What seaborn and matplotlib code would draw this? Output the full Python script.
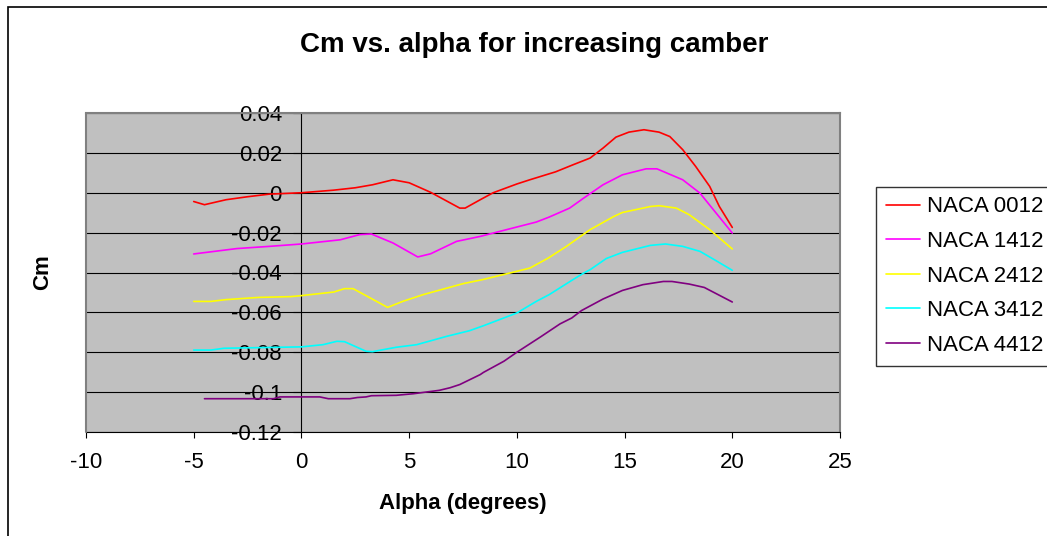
import matplotlib
matplotlib.use("Agg")
import matplotlib.pyplot as plt
from matplotlib.lines import Line2D
from matplotlib.patches import Rectangle
import seaborn as sns
import pandas as pd

# Pitching-moment coefficient vs. angle of attack for five NACA sections
alpha_0012 = [-5.0, -4.5, -3.5, -2.5, -1.5, 0.0, 1.5, 2.5, 3.3, 4.25, 5.0, 6.0, 7.35, 7.6,
              8.3, 8.9, 10.0, 10.6, 11.8, 12.6, 13.4, 14.0, 14.6, 15.2, 15.9, 16.6, 17.1,
              17.7, 18.3, 18.95, 19.4, 20.0]
cm_0012 = [-0.0044, -0.006, -0.0035, -0.002, -0.0007, 0.0, 0.0013, 0.0025, 0.004, 0.0065,
           0.005, 0.0002, -0.0077, -0.0077, -0.0035, 0.0, 0.0044, 0.0065, 0.0105, 0.014,
           0.0174, 0.0224, 0.0279, 0.0304, 0.0316, 0.0304, 0.0282, 0.0216, 0.0132, 0.0032,
           -0.0069, -0.0174]

alpha_1412 = [-5.0, -3.0, -1.5, 0.0, 1.8, 2.7, 3.25, 4.25, 5.4, 6.0, 7.2, 8.3, 9.2, 10.9,
              11.5, 12.45, 13.1, 14.0, 14.9, 16.0, 16.5, 17.7, 18.5, 19.25, 20.0]
cm_1412 = [-0.0307, -0.028, -0.0269, -0.0257, -0.0236, -0.021, -0.0207, -0.0252, -0.0322,
           -0.0306, -0.0244, -0.0219, -0.0194, -0.0147, -0.0122, -0.0077, -0.0027, 0.004,
           0.009, 0.012, 0.012, 0.0065, -0.0002, -0.0102, -0.0202]

alpha_2412 = [-5.0, -4.2, -3.5, -2.0, -0.5, 0.0, 1.5, 2.0, 2.4, 4.0, 4.7, 5.65, 7.5, 8.4,
              10.0, 10.6, 11.45, 12.3, 13.4, 14.5, 14.9, 16.2, 16.6, 17.4, 18.0, 18.95, 20.0]
cm_2412 = [-0.0545, -0.0545, -0.0536, -0.0525, -0.0521, -0.0516, -0.0498, -0.0481, -0.0481,
           -0.0575, -0.0545, -0.0511, -0.0456, -0.0436, -0.0394, -0.0378, -0.0328, -0.0269,
           -0.0185, -0.0119, -0.0099, -0.0069, -0.0065, -0.0077, -0.011, -0.0185, -0.0282]

alpha_3412 = [-5.0, -4.2, -3.6, -1.0, 0.0, 1.0, 1.65, 2.0, 3.0, 3.3, 4.4, 5.35, 6.75, 7.8,
              8.45, 10.0, 10.9, 11.5, 12.6, 13.1, 13.4, 14.15, 14.9, 16.2, 16.9, 17.7, 18.5,
              19.25, 20.0]
cm_3412 = [-0.0789, -0.0789, -0.078, -0.0775, -0.0773, -0.0762, -0.0745, -0.0747, -0.0795,
           -0.0797, -0.0775, -0.0762, -0.072, -0.0692, -0.0667, -0.0603, -0.0545, -0.0511,
           -0.0436, -0.0403, -0.0386, -0.033, -0.0299, -0.0264, -0.0257, -0.0269, -0.0294,
           -0.0341, -0.0389]

alpha_4412 = [-4.5, -1.3, -1.0, 0.85, 1.25, 2.25, 2.6, 3.0, 3.25, 4.4, 5.2, 6.4, 6.9, 7.35,
              8.3, 8.45, 9.4, 10.0, 11.1, 12.0, 12.55, 13.0, 14.0, 14.9, 15.85, 16.8, 17.2,
              18.0, 18.7, 20.0]
cm_4412 = [-0.1033, -0.1033, -0.1024, -0.1024, -0.1033, -0.1033, -0.1027, -0.1024, -0.1018,
           -0.1016, -0.1008, -0.0991, -0.0978, -0.0962, -0.0912, -0.0901, -0.0845, -0.080,
           -0.0723, -0.0658, -0.0628, -0.0591, -0.0533, -0.049, -0.0461, -0.0445, -0.0445,
           -0.0458, -0.0475, -0.0548]

airfoils = ["NACA 0012", "NACA 1412", "NACA 2412", "NACA 3412", "NACA 4412"]
line_colors = ["#FF0000", "#FF00FF", "#FFFF00", "#00FFFF", "#800080"]

x_ticks = [-10, -5, 0, 5, 10, 15, 20, 25]
x_tick_labels = ["-10", "-5", "0", "5", "10", "15", "20", "25"]
y_ticks = [0.04, 0.02, 0.0, -0.02, -0.04, -0.06, -0.08, -0.1, -0.12]
y_tick_labels = ["0.04", "0.02", "0", "-0.02", "-0.04", "-0.06", "-0.08", "-0.1", "-0.12"]

series = [(alpha_0012, cm_0012), (alpha_1412, cm_1412), (alpha_2412, cm_2412),
          (alpha_3412, cm_3412), (alpha_4412, cm_4412)]
frames = []
for name, (a, c) in zip(airfoils, series):
    frames.append(pd.DataFrame({"alpha": a, "Cm": c, "airfoil": name}))
df = pd.concat(frames, ignore_index=True)

sns.set_style("white")
plt.rcParams["font.family"] = ["Liberation Sans", "DejaVu Sans"]
plt.rcParams["axes.unicode_minus"] = False
plt.rcParams["text.color"] = "black"
plt.rcParams["axes.labelcolor"] = "black"
plt.rcParams["xtick.color"] = "black"
plt.rcParams["ytick.color"] = "black"

W, H = 1047, 536
fig = plt.figure(figsize=(W / 100, H / 100), dpi=100)
fig.patch.set_facecolor("white")
ax = fig.add_axes([86 / W, 1 - 432 / H, (840 - 86) / W, (432 - 113) / H])
ax.set_facecolor("#C0C0C0")

sns.lineplot(data=df, x="alpha", y="Cm", hue="airfoil", hue_order=airfoils,
             palette=line_colors, estimator=None, sort=False, linewidth=1.2,
             ax=ax, legend=False, zorder=3)

# value axis crosses at alpha = 0; plot area frame is grey
ax.spines["left"].set_position(("data", 0))
ax.spines["left"].set_color("black")
ax.spines["left"].set_linewidth(0.8)
ax.spines["bottom"].set_color("black")
ax.spines["bottom"].set_linewidth(0.8)
for s in ("top", "right"):
    ax.spines[s].set_color("#808080")
    ax.spines[s].set_linewidth(1.5)
ax.add_line(Line2D([0, 0], [0, 1], transform=ax.transAxes, color="#808080",
                   linewidth=1.5, zorder=4, clip_on=False))

ax.set_xlim(-10, 25)
ax.set_ylim(-0.12, 0.04)
ax.set_xticks(x_ticks)
ax.set_xticklabels(x_tick_labels, fontsize=16, color="black")
ax.set_yticks(y_ticks)
ax.set_yticklabels(y_tick_labels, fontsize=16, color="black")

ax.grid(axis="y", color="black", linewidth=0.8, zorder=1)
ax.grid(axis="x", visible=False)
ax.set_axisbelow(True)

ax.tick_params(axis="y", direction="out", length=6, width=0.8, pad=8, colors="black", left=True)
ax.tick_params(axis="x", direction="out", length=4.5, width=0.8, pad=10, colors="black", bottom=True)

ax.set_xlabel("Alpha (degrees)", fontsize=16, fontweight="bold", labelpad=14, color="black")
ax.set_ylabel("")
fig.text(43 / W, 1 - 272 / H, "Cm", fontsize=16, fontweight="bold", rotation=90,
         ha="center", va="center", color="black")
fig.text(534 / W, 1 - 45 / H, "Cm vs. alpha for increasing camber", fontsize=20,
         fontweight="bold", ha="center", va="center", color="black")

handles = [Line2D([], [], color=c, linewidth=1.2) for c in line_colors]
leg = fig.legend(handles, airfoils, loc="upper left",
                 bbox_to_anchor=(875.5 / W, 1 - 186.5 / H), bbox_transform=fig.transFigure,
                 fontsize=16, frameon=True, fancybox=False, shadow=False,
                 handlelength=1.55, handletextpad=0.3, labelspacing=0.61, borderpad=0.45,
                 borderaxespad=0)
leg.get_frame().set_edgecolor("black")
leg.get_frame().set_linewidth(1.0)
leg.get_frame().set_facecolor("white")
for t in leg.get_texts():
    t.set_color("black")

# outer chart border
fig.patches.append(Rectangle((8 / W, -0.5), 2.0, 1.5 - 7 / H, transform=fig.transFigure,
                             fill=False, edgecolor="black", linewidth=1.2))

fig.savefig("out.png", dpi=100)
